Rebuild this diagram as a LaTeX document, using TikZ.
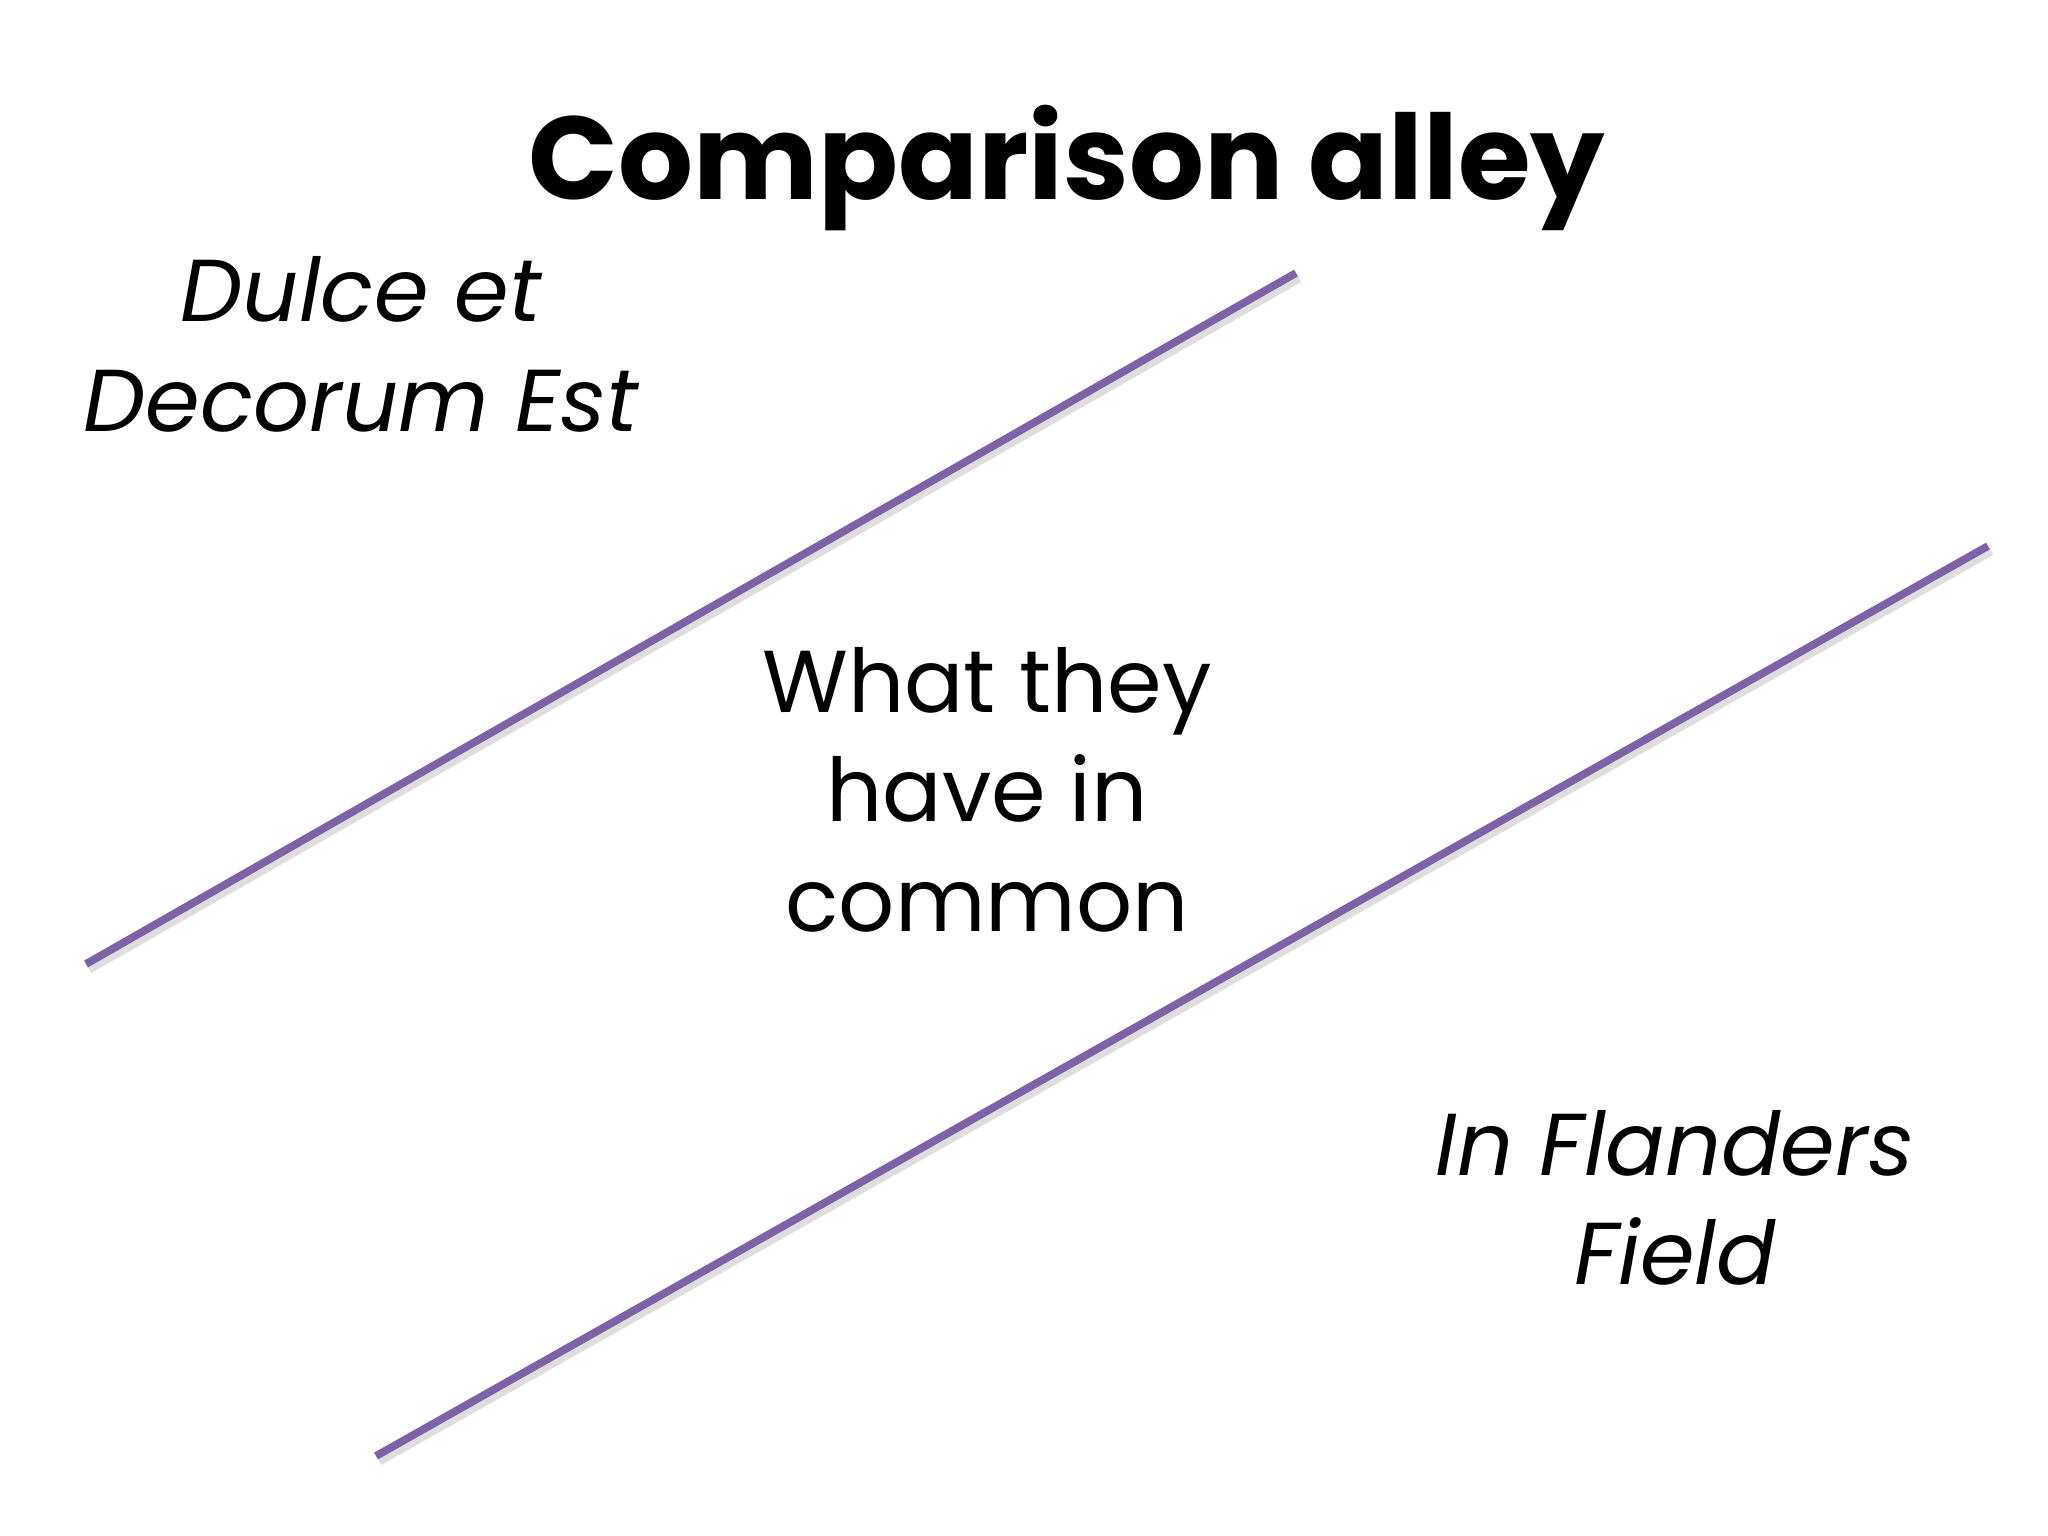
\documentclass[tikz,border=0pt]{standalone}
\usepackage{fontspec}
\setmainfont{Poppins}
\newfontfamily\titlefont{Poppins}[UprightFont=* Bold]
\definecolor{alleyline}{RGB}{126,98,168}
\definecolor{shadowgrey}{RGB}{190,190,190}
\tikzset{
  alley/.style={draw=alleyline, line width=2.2pt, line cap=butt},
  alleyshadow/.style={draw=shadowgrey, line width=2.6pt, opacity=0.5},
  poem/.style={font=\fontsize{25}{31}\selectfont\itshape, align=center, anchor=base, inner sep=0pt},
  common/.style={font=\fontsize{25}{31}\selectfont, align=center, anchor=base, inner sep=0pt},
}
\begin{document}
\begin{tikzpicture}[x=0.01cm, y=-0.01cm]
\useasboundingbox[fill=white] (0,0) rectangle (2048,1536);
\node[font=\fontsize{33.5}{40}\selectfont\titlefont, anchor=base, inner sep=0pt] (title) at (1067,199) {Comparison alley};
\node[poem] (dulce) at (361,431) {Dulce et\\Decorum Est};
\node[common] (common) at (987,931) {What they\\have in\\common};
\node[poem] (flanders) at (1675,1284) {In Flanders\\Field};
\coordinate (a1) at (86,964);
\coordinate (b1) at (1296,273);
\coordinate (a2) at (376,1456);
\coordinate (b2) at (1988,546);
\draw[alleyshadow] ([shift={(3,5)}]a1) -- ([shift={(3,5)}]b1);
\draw[alleyshadow] ([shift={(3,5)}]a2) -- ([shift={(3,5)}]b2);
\draw[alley] (a1) -- (b1);
\draw[alley] (a2) -- (b2);
\end{tikzpicture}
\end{document}
